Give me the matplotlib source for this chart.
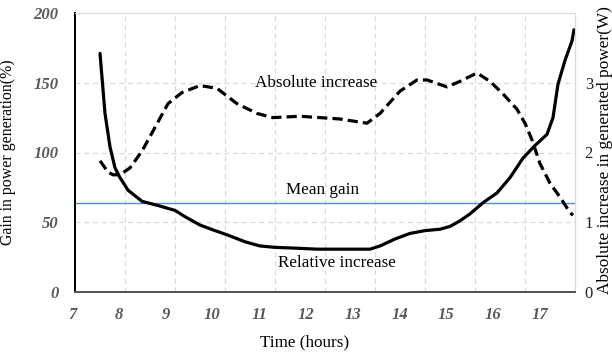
import matplotlib
matplotlib.use("Agg")
import matplotlib.pyplot as plt
import matplotlib.transforms as mtransforms

plt.rcParams['font.family'] = ['Liberation Serif', 'DejaVu Serif']

# relative gain in power generation (%)
rel_hours = [7.5, 7.6, 7.7, 7.8, 7.9, 8.06, 8.34, 8.66, 9.0, 9.2, 9.5, 9.8,
             10.04, 10.4, 10.7, 11.0, 11.36, 11.84, 12.4, 12.9, 13.1, 13.4,
             13.7, 14.0, 14.3, 14.5, 14.7, 14.9, 15.16, 15.44, 15.7, 15.96,
             16.2, 16.44, 16.56, 16.66, 16.8, 16.94, 16.98]
rel_gain = [171, 128, 104, 89, 82, 73, 65, 62, 58.5, 54, 48, 44,
            41, 36, 33, 32, 31.5, 30.7, 30.7, 30.7, 33, 38,
            42, 44, 45, 47, 51, 56, 64, 71, 82, 96,
            105, 113, 125, 149, 166, 180, 188]

# absolute increase in generated power (W)
abs_hours = [7.5, 7.66, 7.76, 7.9, 8.1, 8.34, 8.6, 8.86, 9.14, 9.5, 9.84,
             10.24, 10.64, 10.96, 11.5, 12.3, 12.84, 13.1, 13.5, 13.84, 14.04,
             14.44, 14.7, 15.04, 15.3, 15.56, 15.84, 16.0, 16.14, 16.3, 16.5,
             16.7, 16.9, 16.96]
abs_power = [1.88, 1.72, 1.68, 1.68, 1.78, 2.02, 2.36, 2.70, 2.86, 2.96, 2.92,
             2.70, 2.56, 2.50, 2.52, 2.48, 2.42, 2.56, 2.88, 3.04, 3.04,
             2.94, 3.02, 3.14, 3.02, 2.84, 2.62, 2.42, 2.18, 1.84, 1.56,
             1.36, 1.14, 1.10]

mean_gain = 64
hour_ticks = list(range(7, 18))
gain_ticks = [0, 50, 100, 150, 200]
power_ticks = [0, 1, 2, 3]

fig = plt.figure(figsize=(6.12, 3.56), dpi=100)
ax = fig.add_axes([75 / 612, 1 - 292 / 356, 500 / 612, 279 / 356])
ax2 = ax.twinx()

grid_kw = dict(color='#d9d9d9', linestyle=(0, (4, 3)), linewidth=0.9, zorder=0)
for h in hour_ticks[1:-1]:
    ax.axvline(h, **grid_kw)
for g in gain_ticks[1:-1]:
    ax.axhline(g, **grid_kw)

ax.plot(rel_hours, rel_gain, color='black', linewidth=2.3, solid_capstyle='round', zorder=3)
ax.axhline(mean_gain, color='#4a8fdb', linewidth=1.0, zorder=2)
ax2.plot(abs_hours, abs_power, color='black', linewidth=2.3,
         linestyle=(0, (3.2, 1.6)), zorder=3)

ax.set_xlim(7, 17)
ax.set_ylim(0, 200)
ax2.set_ylim(0, 4)

ax.text(11.82, 150, 'Absolute increase', ha='center', va='center', fontsize=12.3)
ax.text(11.96, 73, 'Mean gain', ha='center', va='center', fontsize=12.3)
ax.text(12.24, 21, 'Relative increase', ha='center', va='center', fontsize=12.3)

tick_font = dict(fontsize=12, fontweight='bold', fontstyle='italic', color='#595959')
ax.set_xticks(hour_ticks)
ax.set_xticklabels([str(h) for h in hour_ticks], **tick_font)
ax.set_yticks(gain_ticks)
ax.set_yticklabels([str(g) for g in gain_ticks], **tick_font)
ax.tick_params(axis='both', length=0)
ax.tick_params(axis='x', pad=11)
ax.tick_params(axis='y', pad=12)

# hour labels sit a little left of their grid lines, drifting further right to left
for k, lab in enumerate(ax.get_xticklabels()):
    shift = (-3 - 3.2 * k) / 100
    lab.set_transform(lab.get_transform() + mtransforms.ScaledTranslation(shift, 0, fig.dpi_scale_trans))

ax2.set_yticks(power_ticks)
ax2.set_yticklabels([str(p) for p in power_ticks], fontsize=12, color='#222222')
ax2.tick_params(axis='y', length=0, pad=7)

ax.set_xlabel('Time (hours)', fontsize=12.3)
ax.xaxis.set_label_coords(0.46, -0.152)
ax.set_ylabel('Gain in power generation(%)', fontsize=11.4)
ax.yaxis.set_label_coords(-0.118, 0.5)
ax2.set_ylabel('Absolute increase in generated power(W)', fontsize=12.4)
ax2.yaxis.set_label_coords(1.044, 0.51)

for a in (ax, ax2):
    a.spines['top'].set_color('#d9d9d9')
    a.spines['right'].set_color('#d9d9d9')
    a.spines['left'].set_color('black')
    a.spines['left'].set_linewidth(1.4)
    a.spines['bottom'].set_color('#555555')
    a.spines['bottom'].set_linewidth(1.4)

fig.savefig('out.png', dpi=100)
